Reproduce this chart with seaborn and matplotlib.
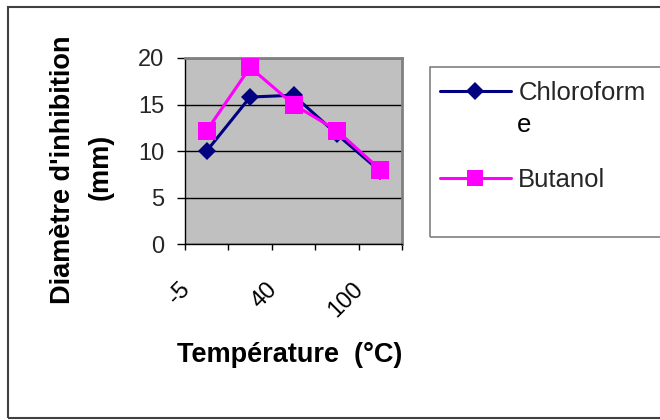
import matplotlib
matplotlib.use("Agg")
import matplotlib.pyplot as plt
from matplotlib.patches import Rectangle
from matplotlib.lines import Line2D
import seaborn as sns
import pandas as pd

# ---- data ----
temperatures = ["-5", "20", "40", "60", "100"]
chloroforme = [10, 15.8, 16, 11.8, 7.8]
butanol = [12.2, 19, 15, 12.2, 8]
series_names = ["Chloroforme", "Butanol"]
yticks = [0, 5, 10, 15, 20]

sns.set_theme(style="white")
plt.rcParams["font.family"] = ["Liberation Sans", "DejaVu Sans"]

pos = list(range(len(temperatures)))
df = pd.DataFrame({
    "pos": pos * 2,
    "val": chloroforme + butanol,
    "serie": [series_names[0]] * len(pos) + [series_names[1]] * len(pos),
})

W, H = 660, 420
fig = plt.figure(figsize=(W / 100, H / 100), dpi=100)
fig.patch.set_facecolor("white")

def fx(px):
    return px / W

def fy(py):
    return 1 - py / H

# outer chart border
fig.add_artist(Rectangle((fx(8), fy(418)), fx(700), (418 - 7) / H,
                         transform=fig.transFigure, fill=False,
                         edgecolor="#404040", linewidth=1.5))

ax = fig.add_axes([fx(185), fy(244), (402 - 185) / W, (244 - 58) / H])
ax.set_facecolor("#C0C0C0")

palette = {series_names[0]: "#000080", series_names[1]: "#FF00FF"}
markers = {series_names[0]: "D", series_names[1]: "s"}
sns.lineplot(data=df, x="pos", y="val", hue="serie", style="serie",
             palette=palette, markers=markers, dashes=False,
             linewidth=2.2, markersize=11, markeredgewidth=0,
             legend=False, ax=ax, zorder=3)
for ln in ax.lines:
    if ln.get_marker() == "D":
        ln.set_markersize(9)
    else:
        ln.set_markersize(12.5)

ax.set_xlim(-0.5, len(temperatures) - 0.5)
ax.set_ylim(0, 20)
ax.set_yticks(yticks)
ax.set_yticklabels([str(v) for v in yticks], fontsize=17)
ax.yaxis.grid(True, color="black", linewidth=1)
ax.set_axisbelow(True)

# category axis: tick marks at boundaries, labels every other category
ax.set_xticks([p - 0.5 for p in pos] + [pos[-1] + 0.5])
ax.set_xticklabels([])
ax.tick_params(axis="x", length=4, width=1, color="black",
               direction="out", bottom=True)
ax.tick_params(axis="y", length=6, width=1, color="black", direction="out",
               left=True, pad=9)
for i in pos[::2]:
    ax.annotate(temperatures[i], xy=(i, 0), xycoords=("data", "axes fraction"),
                xytext=(-20, -42), textcoords="offset pixels",
                rotation=45, ha="right", va="center", rotation_mode="anchor",
                fontsize=17, color="black")

for side in ["top", "right"]:
    ax.spines[side].set_color("#808080")
    ax.spines[side].set_linewidth(2)
for side in ["left", "bottom"]:
    ax.spines[side].set_color("black")
    ax.spines[side].set_linewidth(1)

ax.set_xlabel("")
ax.set_ylabel("")
fig.text(fx(290), fy(362), "Température  (°C)", fontsize=19.5,
         fontweight="bold", ha="center", va="baseline", color="black")
fig.text(fx(70), fy(170), "Diamètre d'inhibition", fontsize=19.5,
         fontweight="bold", ha="center", va="baseline", rotation=90,
         rotation_mode="anchor", color="black")
fig.text(fx(108), fy(167), "(mm)", fontsize=19.5,
         fontweight="bold", ha="center", va="baseline", rotation=90,
         rotation_mode="anchor", color="black")

# legend box
fig.add_artist(Rectangle((fx(430), fy(237)), fx(300), (237 - 67) / H,
                         transform=fig.transFigure, fill=False,
                         edgecolor="#808080", linewidth=1.2))
handles = [Line2D([0], [0], color=palette[series_names[0]], marker="D",
                  markersize=9, linewidth=2.2, markeredgewidth=0),
           Line2D([0], [0], color=palette[series_names[1]], marker="s",
                  markersize=12, linewidth=2.2, markeredgewidth=0)]
fig.legend(handles, ["Chloroform", "Butanol"], loc="upper left",
           bbox_to_anchor=(fx(440), fy(81)), frameon=False, fontsize=18.5,
           handlelength=2.75, handletextpad=0.3, labelspacing=2.45,
           borderaxespad=0, borderpad=0)
fig.text(fx(517), fy(132), "e", fontsize=18.5, ha="left", va="baseline",
         color="black")

fig.savefig("out.png", dpi=100)
